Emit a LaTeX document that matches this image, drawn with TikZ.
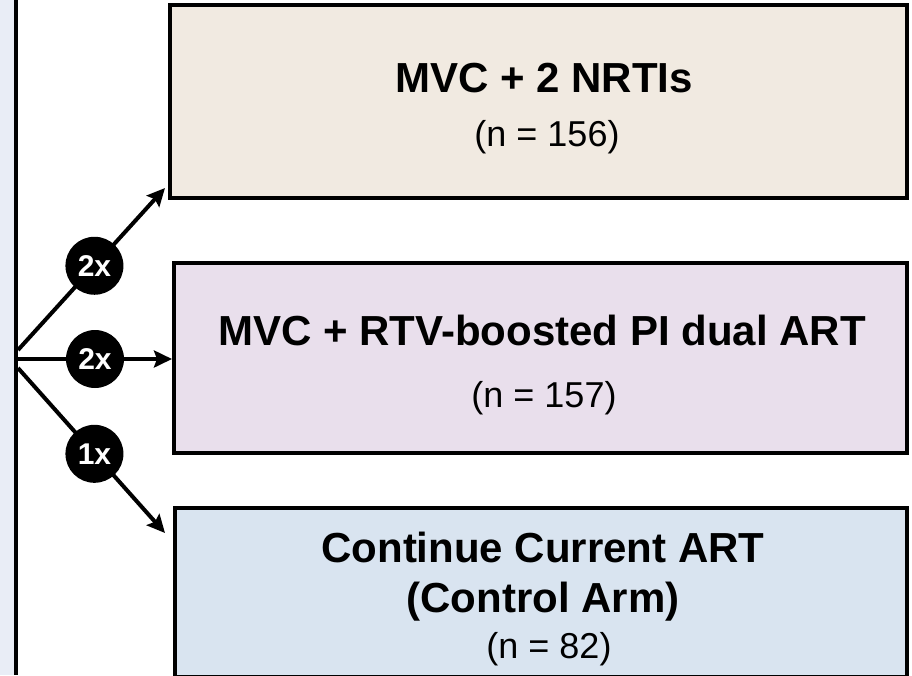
\documentclass[tikz,border=0pt]{standalone}
\usepackage{fontspec}
\setmainfont{Liberation Sans}
\usetikzlibrary{arrows.meta}

\definecolor{armbeige}{HTML}{F1EAE1}
\definecolor{armlilac}{HTML}{E9DFEC}
\definecolor{armblue}{HTML}{D9E4F0}
\definecolor{stripblue}{HTML}{E9EDF6}

\begin{document}
\begin{tikzpicture}[x=1pt, y=-1pt,
  armbox/.style={draw=black, line width=4pt, inner sep=0pt},
  armtitle/.style={anchor=base, font=\fontsize{42}{50}\selectfont\bfseries},
  armcount/.style={anchor=base, font=\fontsize{36}{43}\selectfont},
  ratio/.style={circle, fill=black, text=white, minimum size=58pt,
                inner sep=0pt, font=\fontsize{30}{36}\selectfont\bfseries},
  branch/.style={line width=4pt,
                 -{Stealth[length=18pt, width=17pt, inset=3pt]}}]

\useasboundingbox (0,0) rectangle (912,675);

% ============================================ the randomisation rail
\fill[stripblue] (0,0) rectangle (14,675);
\draw[line width=4pt] (16,0) -- (16,675);

\coordinate (s1) at (18,350);
\coordinate (s2) at (18,359);
\coordinate (s3) at (18,368);

% ========================================================= the three arms
\node[armbox, fill=armbeige, minimum width=737pt, minimum height=193pt]
  (arm1) at (538.5,101.5) {};
\node[armbox, fill=armlilac, minimum width=733pt, minimum height=190pt]
  (arm2) at (540.5,358) {};
\node[armbox, fill=armblue, minimum width=732pt, minimum height=169pt]
  (arm3) at (541,592.5) {};

\node[armtitle] (arm1name) at (544,92) {MVC + 2 NRTIs};
\node[armcount] (arm1n) at (547,146) {(n = 156)};

\node[armtitle] (arm2name) at (542,345) {MVC + RTV-boosted PI dual ART};
\node[armcount] (arm2n) at (544,407) {(n = 157)};

\node[armtitle] (arm3name) at (543,562) {Continue Current ART};
\node[armtitle] (arm3sub) at (543,612) {(Control Arm)};
\node[armcount] (arm3n) at (549,658) {(n = 82)};

% ============================================= allocation arrows, 2:2:1
\coordinate (e1) at (165,188);
\coordinate (e3) at (165,533);

\draw[branch] (s1) -- node[ratio, pos=0.52] (r1) {2x} (e1);
\draw[branch] (s2) -- node[ratio, pos=0.5] (r2) {2x} (s2 -| arm2.west);
\draw[branch] (s3) -- node[ratio, pos=0.52] (r3) {1x} (e3);

\end{tikzpicture}
\end{document}
